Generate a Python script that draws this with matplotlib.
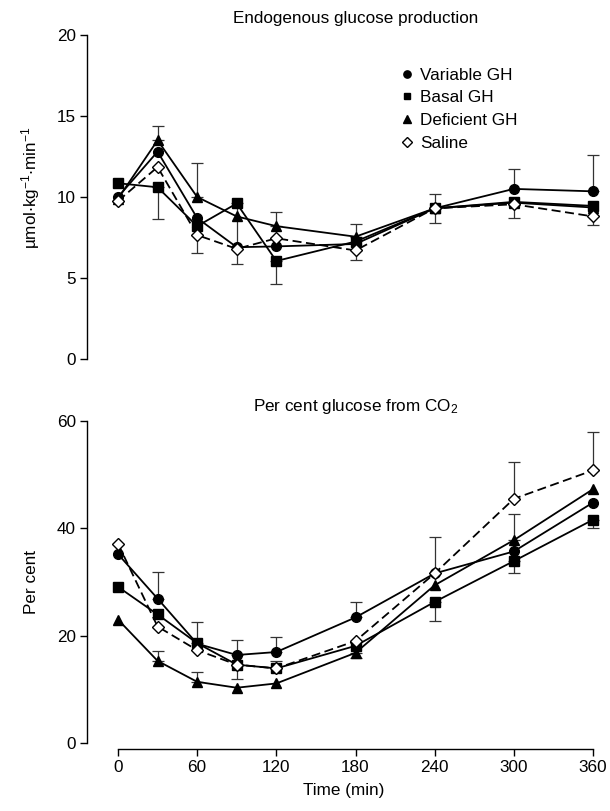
import matplotlib
matplotlib.use("Agg")
import matplotlib.pyplot as plt
from matplotlib.lines import Line2D

plt.rcParams['font.family'] = ['Liberation Sans', 'DejaVu Sans']
plt.rcParams['mathtext.fontset'] = 'custom'
plt.rcParams['mathtext.rm'] = 'Liberation Sans'
plt.rcParams['mathtext.it'] = 'Liberation Sans:italic'
plt.rcParams['mathtext.default'] = 'regular'

time = [0, 30, 60, 90, 120, 180, 240, 300, 360]
xticks = [0, 60, 120, 180, 240, 300, 360]
series_names = ['Variable GH', 'Basal GH', 'Deficient GH', 'Saline']

# Endogenous glucose production (umol/kg/min)
egp_variable = [10.0, 12.8, 8.7, 6.9, 6.95, 7.1, 9.3, 10.5, 10.35]
egp_basal = [10.85, 10.6, 8.2, 9.6, 6.05, 7.25, 9.3, 9.7, 9.45]
egp_deficient = [9.9, 13.5, 10.0, 8.8, 8.2, 7.55, 9.3, 9.65, 9.35]
egp_saline = [9.75, 11.85, 7.65, 6.8, 7.45, 6.7, 9.3, 9.55, 8.8]

# error bars (lower, upper) for EGP
egp_variable_lo = [0, 0, 0, 0, 0, 0, 0, 0, 0]
egp_variable_hi = [0, 0, 0, 0, 0, 0, 0, 1.2, 2.25]
egp_basal_lo = [0, 1.95, 0, 3.74, 1.45, 0, 0, 0, 0]
egp_basal_hi = [0, 0, 0, 0, 0, 0, 0, 0, 0]
egp_deficient_lo = [0, 0, 0, 0, 0, 0, 0, 0, 0]
egp_deficient_hi = [0, 0.9, 2.1, 0, 0.85, 0.78, 0.9, 0, 0]
egp_saline_lo = [0, 0, 1.1, 0, 0, 0.6, 0.88, 0.87, 0.53]
egp_saline_hi = [0, 0, 0, 0, 0, 0, 0, 0, 0]

# Per cent glucose from CO2
pc_variable = [35.2, 26.9, 18.5, 16.4, 16.95, 23.4, 31.6, 35.7, 44.8]
pc_basal = [29.1, 23.95, 18.6, 14.6, 13.9, 18.1, 26.3, 33.9, 41.6]
pc_deficient = [23.0, 15.3, 11.4, 10.3, 11.1, 16.8, 29.4, 37.8, 47.3]
pc_saline = [37.15, 21.7, 17.3, 14.6, 13.9, 19.0, 31.6, 45.5, 50.8]

pc_variable_lo = [0, 0, 0, 0, 0, 0, 0, 0, 0]
pc_variable_hi = [0, 5.0, 0, 2.8, 2.85, 2.8, 0, 0, 0]
pc_basal_lo = [0, 0, 0, 2.7, 0, 0, 3.6, 2.2, 1.6]
pc_basal_hi = [0, 0, 3.9, 0, 0, 0, 0, 0, 0]
pc_deficient_lo = [0, 0, 0, 0, 0, 0.9, 0, 0, 0]
pc_deficient_hi = [0, 1.9, 1.9, 0, 0, 0, 0, 4.9, 0]
pc_saline_lo = [0, 0, 0, 0, 0, 0, 0, 0, 0]
pc_saline_hi = [0, 0, 0, 0, 1.3, 0, 6.7, 6.8, 7.2]

styles = [
    dict(marker='o', ms=7.0, mfc='black', mec='black', ls='-'),
    dict(marker='s', ms=6.5, mfc='black', mec='black', ls='-'),
    dict(marker='^', ms=7.5, mfc='black', mec='black', ls='-'),
    dict(marker='D', ms=6.3, mfc='white', mec='black', ls=(0, (5, 2.5))),
]

W, H = 610, 811
fig = plt.figure(figsize=(6.1, 8.11), dpi=100)

px_per_min = 475 / 360.0
x_left_px, x_right_px = 87, 600
xlim = (-(118 - x_left_px) / px_per_min, (x_right_px - 118) / px_per_min)

ax1 = fig.add_axes([x_left_px / W, (H - 359) / H, (x_right_px - x_left_px) / W, 324 / H])
ax2 = fig.add_axes([x_left_px / W, (H - 743) / H, (x_right_px - x_left_px) / W, 322 / H])

def draw(ax, ys, los, his):
    for i, (y, lo, hi) in enumerate(zip(ys, los, his)):
        st = styles[i]
        idx = [k for k in range(len(time)) if lo[k] > 0 or hi[k] > 0]
        if idx:
            ax.errorbar([time[k] for k in idx], [y[k] for k in idx],
                        yerr=[[lo[k] for k in idx], [hi[k] for k in idx]],
                        fmt='none', ecolor='#333333', elinewidth=0.9,
                        capsize=4, capthick=0.9, zorder=1 + i * 0.1, clip_on=False)
        ax.plot(time, y, color='black', lw=1.3, linestyle=st['ls'],
                marker=st['marker'], ms=st['ms'], mfc=st['mfc'], mec=st['mec'],
                mew=1.0, zorder=3 + i, clip_on=False, label=series_names[i])

draw(ax1, [egp_variable, egp_basal, egp_deficient, egp_saline],
     [egp_variable_lo, egp_basal_lo, egp_deficient_lo, egp_saline_lo],
     [egp_variable_hi, egp_basal_hi, egp_deficient_hi, egp_saline_hi])
draw(ax2, [pc_variable, pc_basal, pc_deficient, pc_saline],
     [pc_variable_lo, pc_basal_lo, pc_deficient_lo, pc_saline_lo],
     [pc_variable_hi, pc_basal_hi, pc_deficient_hi, pc_saline_hi])

fs = 12.3
for ax in (ax1, ax2):
    ax.set_xlim(*xlim)
    for s in ('top', 'right'):
        ax.spines[s].set_visible(False)
    ax.spines['left'].set_linewidth(1.0)
    ax.tick_params(axis='both', direction='out', length=5, width=1.0, labelsize=fs, pad=3)

ax1.set_ylim(0, 20)
ax1.set_yticks([0, 5, 10, 15, 20])
ax1.spines['bottom'].set_visible(False)
ax1.tick_params(axis='x', bottom=False, labelbottom=False)
ax1.set_ylabel(r'µmol$\cdot$kg$^{-1}$$\cdot$min$^{-1}$', fontsize=fs)
ax1.yaxis.set_label_coords((42 - x_left_px) / (x_right_px - x_left_px), 0.53)

ax2.set_ylim(0, 60)
ax2.set_yticks([0, 20, 40, 60])
ax2.set_xticks(xticks)
ax2.spines['bottom'].set_position(('outward', 4))
ax2.spines['bottom'].set_bounds(0, 360)
ax2.spines['bottom'].set_linewidth(1.0)
ax2.set_xlabel('Time (min)', fontsize=fs, labelpad=6)
ax2.set_ylabel('Per cent', fontsize=fs)
ax2.yaxis.set_label_coords((39 - x_left_px) / (x_right_px - x_left_px), 0.5)

cx = 355.5 / W
fig.text(cx, 1 - 19 / H, 'Endogenous glucose production', ha='center', va='center', fontsize=fs)
fig.text(cx, 1 - 406 / H, 'Per cent glucose from CO$_2$', ha='center', va='center', fontsize=fs)

handles = [Line2D([], [], color='black', ls='none', marker=st['marker'],
                  ms=st['ms'] * 0.75, mfc=st['mfc'], mec=st['mec'], mew=1.0)
           for st in styles]
fig.legend(handles, series_names, loc='upper left',
           bbox_to_anchor=(393 / W, 1 - 59 / H), frameon=False, fontsize=fs,
           handlelength=0.6, handletextpad=0.5, labelspacing=0.45, borderpad=0)

fig.savefig('out.png', dpi=100)
